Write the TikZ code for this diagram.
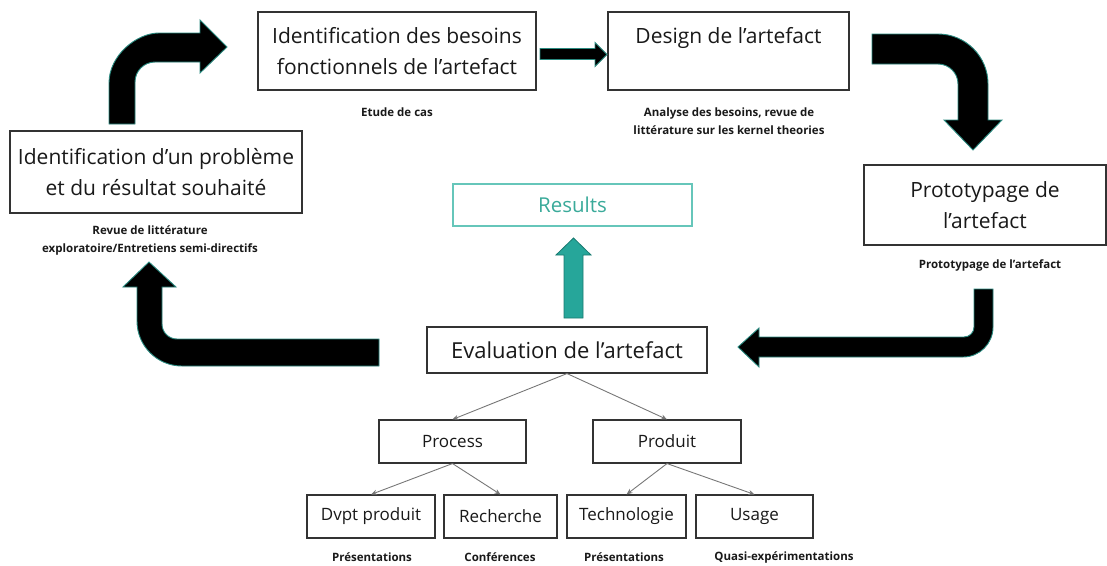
\documentclass[tikz,border=0pt]{standalone}
\usepackage{fontspec}
\setmainfont{Open Sans}
\usetikzlibrary{arrows.meta}
\definecolor{boxline}{HTML}{333333}
\definecolor{tealline}{HTML}{2A8A80}
\definecolor{tealfill}{HTML}{26A69A}
\definecolor{tealdark}{HTML}{1A7A70}
\definecolor{tealtext}{HTML}{3AAA9A}
\definecolor{tealbox}{HTML}{66C6BA}
\definecolor{treeline}{HTML}{777777}
\tikzset{
  box/.style={draw=boxline, line width=1.1pt, fill=white, inner sep=0pt, align=center, text=black!90},
  bigtext/.style={font=\fontsize{21}{31}\selectfont},
  midtext/.style={font=\fontsize{17}{20}\selectfont},
  smalltext/.style={font=\bfseries\fontsize{11.5}{18}\selectfont, align=center, inner sep=0pt, text=black!90},
  bigarrow/.style={fill=black, draw=tealline, line width=0.9pt, line join=miter},
  tree/.style={draw=treeline, line width=0.9pt, -{Stealth[length=6pt,width=5pt]}}
}
\begin{document}
\begin{tikzpicture}[x=1pt,y=-1pt]
\useasboundingbox (0,0) rectangle (1107,565);

% main boxes
\node[box, bigtext, minimum width=278pt, minimum height=78pt] (A) at (397,51)
  {Identification des besoins\\fonctionnels de l’artefact};
\node[box, minimum width=241pt, minimum height=78pt] (B) at (728.5,51) {};
\node[bigtext, inner sep=0pt, text=black!90, anchor=base] (Bt) at (728.5,43) {Design de l’artefact};
\node[box, bigtext, minimum width=242pt, minimum height=80pt] (C) at (985,205)
  {Prototypage de\\l’artefact};
\node[box, bigtext, minimum width=292pt, minimum height=82pt] (D) at (156,172)
  {Identification d’un problème\\et du résultat souhaité};
\node[box, draw=tealbox, text=tealtext, font=\fontsize{20.5}{22}\selectfont, minimum width=239pt, minimum height=42pt] (R) at (572.5,205) {Results};
\node[box, font=\fontsize{22}{24}\selectfont, minimum width=280pt, minimum height=46pt] (E) at (567,350) {Evaluation de l’artefact};

% tree
\node[box, midtext, minimum width=147pt, minimum height=43pt] (P1) at (452.5,441.5) {Process};
\node[box, midtext, minimum width=148pt, minimum height=43pt] (P2) at (667,441.5) {Produit};
\node[box, midtext, minimum width=128pt, minimum height=43pt] (L1) at (371,516.5) {Dvpt produit};
\node[box, midtext, minimum width=113pt, minimum height=43pt] (L2) at (500.5,516.5) {Recherche};
\node[box, midtext, minimum width=119pt, minimum height=43pt] (L3) at (626.5,516.5) {Technologie};
\node[box, midtext, minimum width=117pt, minimum height=43pt] (L4) at (754.5,516.5) {Usage};

\draw[tree] (E.south) -- (P1.north);
\draw[tree] (E.south) -- (P2.north);
\draw[tree] (P1.south) -- (L1.north);
\draw[tree] (P1.south) -- (L2.north);
\draw[tree] (P2.south) -- (L3.north);
\draw[tree] (P2.south) -- (L4.north);

% small labels
\node[smalltext] (sA) at (397,112) {Etude de cas};
\node[smalltext] (sB) at (729,121.5) {Analyse des besoins, revue de\\littérature sur les kernel theories};
\node[smalltext] (sC) at (990,265) {Prototypage de l’artefact};
\node[smalltext] (sD) at (150,240) {Revue de littérature\\exploratoire/Entretiens semi-directifs};
\node[smalltext] (s1) at (372,557) {Présentations};
\node[smalltext] (s2) at (500,557) {Conférences};
\node[smalltext] (s3) at (624,557) {Présentations};
\node[smalltext] (s4) at (784,557) {Quasi-expérimentations};

% big block arrows
\draw[bigarrow] (109,124) -- (109,83) .. controls (109,55.4) and (136.6,33) .. (159,33)
  -- (200,33) -- (200,20) -- (227,47) -- (200,73) -- (200,62) -- (155,62)
  .. controls (144,62) and (135,71) .. (135,82) -- (135,124) -- cycle;
\draw[bigarrow] (872,34) -- (938,34) .. controls (965.6,34) and (988,56.4) .. (988,84)
  -- (988,120) -- (1002,120) -- (973,150) -- (944,120) -- (958,120) -- (958,84)
  .. controls (958,73) and (949,64) .. (938,64) -- (872,64) -- cycle;
\draw[bigarrow] (974,289) -- (993,289) -- (993,327) .. controls (993,343.6) and (979.6,357) .. (963,357)
  -- (759,357) -- (759,367) -- (738,347) -- (759,328) -- (759,337) -- (964,337)
  .. controls (969.5,337) and (974,332.5) .. (974,327) -- cycle;
\draw[bigarrow] (379,366) -- (182,366) .. controls (157.1,366) and (137,345.9) .. (137,321)
  -- (137,287) -- (123,287) -- (149,262) -- (176,287) -- (162,287) -- (162,324)
  .. controls (162,332.3) and (168.7,339) .. (177,339) -- (379,339) -- cycle;
\draw[bigarrow] (540,48.5) -- (595,48.5) -- (595,42.5) -- (607,54.5) -- (595,66.5) -- (595,59.5) -- (540,59.5) -- cycle;

% teal arrow
\draw[fill=tealfill, draw=tealdark, line width=0.8pt] (564,318) -- (564,255) -- (556,255) -- (573.5,238) -- (591,255) -- (583,255) -- (583,318) -- cycle;
\end{tikzpicture}
\end{document}
